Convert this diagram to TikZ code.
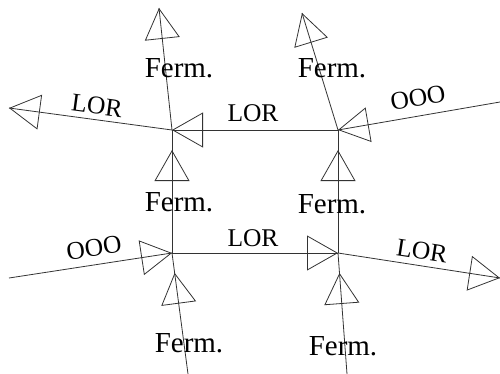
\documentclass[tikz,border=0pt]{standalone}
\usepackage{fontspec}
\setmainfont{Liberation Serif}
\usetikzlibrary{arrows.meta, decorations.markings}

\begin{document}
\begin{tikzpicture}[
    x=1pt, y=-1pt,
    line/.style={draw=black!80, line width=0.8pt},
    tipat/.style={line, postaction={decorate, decoration={markings,
        mark=at position #1 with {\arrow{Triangle[open, length=31pt, width=35pt, line width=0.8pt]}}}}},
    ferm/.style={font=\fontsize{29}{34}\selectfont, inner sep=0pt},
    lbl/.style={font=\fontsize{25.5}{30}\selectfont, inner sep=0pt}
]

\useasboundingbox (0,0) rectangle (500,374);

\coordinate (topleft) at (172,130);
\coordinate (topright) at (338,130);
\coordinate (botleft) at (172,253);
\coordinate (botright) at (338,253);

\coordinate (tlwest) at (9,108);
\coordinate (tlnorth) at (159,8);
\coordinate (trnorth) at (302,13);
\coordinate (treast) at (500,102);
\coordinate (blwest) at (9,278);
\coordinate (blsouth) at (188,374);
\coordinate (breast) at (500,278);
\coordinate (brsouth) at (347,374);

\draw[tipat=1] (topleft) -- (tlwest);
\draw[tipat=1] (topleft) -- (tlnorth);
\draw[tipat=1] (topright) -- (topleft);
\draw[tipat=0.837] (botleft) -- (topleft);
\draw[tipat=1] (treast) -- (topright);
\draw[tipat=1] (topright) -- (trnorth);
\draw[tipat=0.837] (botright) -- (topright);
\draw[tipat=1] (blwest) -- (botleft);
\draw[tipat=0.836] (blsouth) -- (botleft);
\draw[tipat=1] (botleft) -- (botright);
\draw[tipat=1] (botright) -- (breast);
\draw[tipat=0.835] (brsouth) -- (botright);

\node[ferm] (fermtl) at (179,68) {Ferm.};
\node[lbl, rotate=-7.7] (lortl) at (97,106) {LOR};
\node[lbl] (lortop) at (253,113) {LOR};
\node[ferm] (fermtr) at (332,68) {Ferm.};
\node[lbl, rotate=9.8] (oootr) at (418,98) {OOO};
\node[ferm] (fermml) at (179,202) {Ferm.};
\node[lbl, rotate=8.7] (ooobl) at (94,248) {OOO};
\node[lbl] (lorbot) at (253,238) {LOR};
\node[ferm] (fermmr) at (332,204) {Ferm.};
\node[lbl, rotate=-8.8] (lorbr) at (422,251) {LOR};
\node[ferm] (fermbl) at (189,343) {Ferm.};
\node[ferm] (fermbr) at (343,346) {Ferm.};

\end{tikzpicture}
\end{document}
